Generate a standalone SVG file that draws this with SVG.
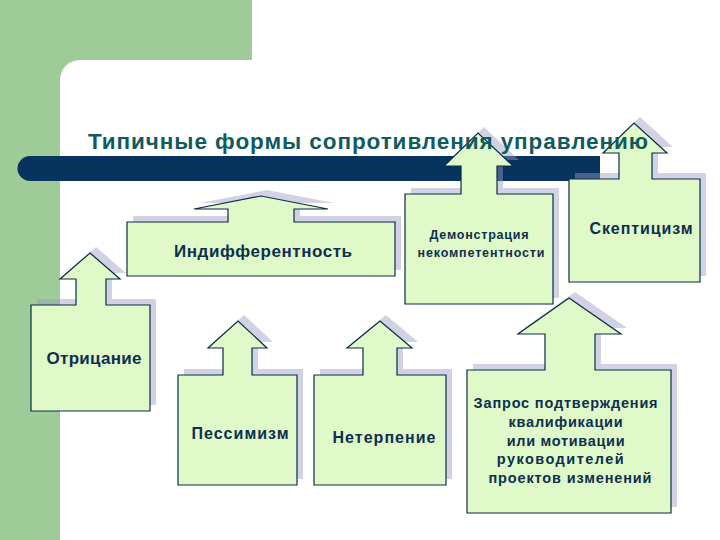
<svg xmlns="http://www.w3.org/2000/svg" xmlns:xlink="http://www.w3.org/1999/xlink" width="720" height="540" viewBox="0 0 720 540">
<style>
.bgG{fill:#9ecb98}
.bar{fill:#07335f}
.title{font-family:"Liberation Sans",Arial,sans-serif;font-weight:bold;font-size:22.5px;fill:#0f5b5e}
.shadow{fill:#9a9cc0;opacity:0.45}
.box{fill:#e0f9c8;stroke:#0b2b48;stroke-width:1.2}
.lbl{font-family:"Liberation Sans",Arial,sans-serif;font-weight:bold;fill:#0c2f4f;text-anchor:middle}
</style>
<defs>
<path id="p-otr" d="M31,305 L76,305 L76,279 L60,279 L90,253 L120,279 L106,279 L106,305 L150,305 L150,411 L31,411 Z"/>
<path id="p-pes" d="M178,375 L223,375 L223,348 L208,348 L238,321 L267,348 L252,348 L252,375 L297,375 L297,485 L178,485 Z"/>
<path id="p-net" d="M314,375 L363,375 L363,348 L347,348 L380,321 L412,348 L397,348 L397,375 L446,375 L446,485 L314,485 Z"/>
<path id="p-zap" d="M467,370 L545,370 L545,334 L518,334 L569,298 L621,334 L595,334 L595,370 L671,370 L671,513 L467,513 Z"/>
<path id="p-dem" d="M405,194 L461,194 L461,166 L444,166 L478,133 L513,166 L497,166 L497,194 L553,194 L553,304 L405,304 Z"/>
<path id="p-skep" d="M569,179 L619,179 L619,153 L603,153 L634,123 L667,153 L652,153 L652,179 L700,179 L700,282 L569,282 Z"/>
<path id="p-ind" d="M127,222 L228,222 L228,209 L194,209 L261,196 L328,209 L294,209 L294,222 L395,222 L395,276 L127,276 Z"/>
</defs>
<g id="background">
<rect class="bgG" x="0" y="0" width="252" height="80"/>
<rect class="bgG" x="0" y="0" width="60" height="540"/>
<rect x="60" y="60" width="700" height="520" rx="20" ry="20" fill="#ffffff"/>
<path class="bar" d="M30,156 L600,156 L600,181 L30,181 A12.5,12.5 0 0 1 30,156 Z"/>
</g>
<g id="connectors"></g>
<g id="node-ind">
<use xlink:href="#p-ind" class="shadow" transform="translate(6,-6)"/>
<use xlink:href="#p-ind" class="box"/>
<text class="lbl" x="263" y="257" font-size="17" textLength="178">Индифферентность</text>
</g>
<g id="node-dem">
<use xlink:href="#p-dem" class="shadow" transform="translate(6,-6)"/>
<use xlink:href="#p-dem" class="box"/>
<text class="lbl" x="479" y="239" font-size="12.5" textLength="99">Демонстрация</text>
<text class="lbl" x="481" y="257" font-size="12.5" textLength="127">некомпетентности</text>
</g>
<g id="node-skep">
<use xlink:href="#p-skep" class="shadow" transform="translate(6,-6)"/>
<use xlink:href="#p-skep" class="box"/>
<text class="lbl" x="641" y="234" font-size="16" textLength="103">Скептицизм</text>
</g>
<g id="node-otr">
<use xlink:href="#p-otr" class="shadow" transform="translate(6,-6)"/>
<use xlink:href="#p-otr" class="box"/>
<text class="lbl" x="94" y="364" font-size="17" textLength="95">Отрицание</text>
</g>
<g id="node-pes">
<use xlink:href="#p-pes" class="shadow" transform="translate(6,-6)"/>
<use xlink:href="#p-pes" class="box"/>
<text class="lbl" x="240" y="439" font-size="16" textLength="97">Пессимизм</text>
</g>
<g id="node-net">
<use xlink:href="#p-net" class="shadow" transform="translate(6,-6)"/>
<use xlink:href="#p-net" class="box"/>
<text class="lbl" x="384" y="443" font-size="16" textLength="103">Нетерпение</text>
</g>
<g id="node-zap">
<use xlink:href="#p-zap" class="shadow" transform="translate(6,-6)"/>
<use xlink:href="#p-zap" class="box"/>
<text class="lbl" font-size="14.5">
<tspan x="568" y="408" textLength="184">Запрос подтверждения</tspan>
<tspan x="568" y="427" textLength="114">квалификации</tspan>
<tspan x="568" y="446" textLength="118">или мотивации</tspan>
<tspan x="563" y="464" textLength="127">руководителей</tspan>
<tspan x="570" y="483" textLength="163">проектов изменений</tspan>
</text>
</g>
<text class="title" x="88" y="149" textLength="560">Типичные формы сопротивления управлению</text>
</svg>
